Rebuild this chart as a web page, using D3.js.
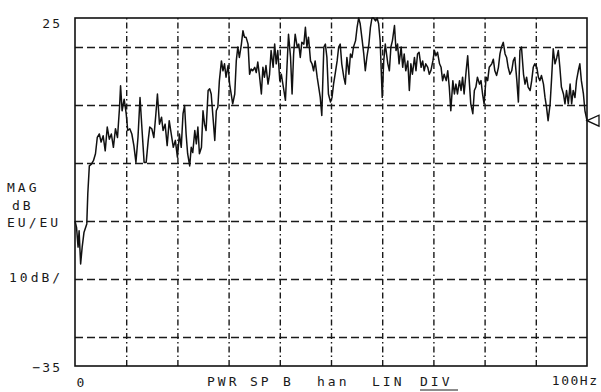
<!DOCTYPE html>
<html>
<head>
<meta charset="utf-8">
<script src="https://cdn.jsdelivr.net/npm/d3@7"></script>
<style>
  html, body { margin: 0; padding: 0; background: #fff; }
  svg { display: block; }
  text { font-family: "DejaVu Sans Mono", "Liberation Mono", monospace; font-size: 13px; fill: #1a1a1a; }
</style>
</head>
<body>
<svg id="chart" width="601" height="392"></svg>
<script>
// Power spectrum trace: frequency (Hz) and magnitude (dB EU/EU)
const traceFreqHz = [
  0, 0.3, 0.6, 0.8, 1.1, 1.4, 1.75, 2.3, 2.5, 2.8,
  3.2, 3.6, 4.0, 4.35, 4.75, 5.1, 5.5, 5.9, 6.3, 6.7,
  7.1, 7.5, 7.9, 8.3, 8.7, 8.9, 9.2, 9.6, 10, 10.3,
  10.7, 11.1, 11.5, 11.9, 12.3, 12.7, 13.1, 13.5, 13.9, 14.3,
  14.6, 15, 15.4, 15.8, 16.1, 16.5, 16.9, 17.2, 17.6, 18,
  18.4, 18.8, 19.2, 19.6, 20, 20.4, 20.75, 21.1, 21.4, 21.7,
  22.0, 22.4, 22.7, 23.0, 23.4, 23.7, 24.0, 24.3, 24.7, 25.0,
  25.3, 25.6, 26.0, 26.3, 26.6, 26.9, 27.3, 27.6, 27.9, 28.2,
  28.6, 28.9, 29.2, 29.5, 29.9, 30.2, 30.5, 30.8, 31.2, 31.5,
  31.8, 32.1, 32.5, 32.8, 33.1, 33.4, 33.8, 34.1, 34.4, 34.7,
  35.1, 35.4, 35.7, 36.0, 36.4, 36.7, 37.0, 37.3, 37.7, 38.0,
  38.3, 38.7, 39.0, 39.3, 39.6, 40.0, 40.3, 40.8, 41.1, 41.4,
  41.7, 42.1, 42.4, 42.7, 43.0, 43.4, 43.7, 44.0, 44.3, 44.7,
  45.0, 45.3, 45.6, 46.0, 46.3, 46.6, 46.9, 47.3, 47.6, 47.9,
  48.2, 48.6, 48.9, 49.2, 49.5, 49.9, 50.2, 50.5, 50.8, 51.2,
  51.5, 51.8, 52.1, 52.5, 52.8, 53.1, 53.5, 53.8, 54.1, 54.4,
  54.8, 55.1, 55.4, 55.7, 56.1, 56.4, 56.7, 57.0, 57.4, 57.7,
  58.0, 58.3, 58.7, 59.0, 59.3, 59.6, 60.0, 60.3, 60.6, 61.1,
  61.4, 61.7, 62.0, 62.4, 62.7, 63.0, 63.3, 63.7, 64.0, 64.3,
  64.6, 65.0, 65.3, 65.6, 65.9, 66.3, 66.6, 66.9, 67.2, 67.6,
  67.9, 68.2, 68.5, 68.9, 69.2, 69.5, 69.9, 70.2, 70.5, 70.8,
  71.2, 71.5, 71.8, 72.1, 72.5, 72.8, 73.1, 73.4, 73.8, 74.1,
  74.4, 74.7, 75.1, 75.4, 75.7, 76.0, 76.4, 76.7, 77.0, 77.3,
  77.7, 78.0, 78.3, 78.6, 79.0, 79.3, 79.6, 79.9, 80.3, 80.6,
  80.9, 81.4, 81.7, 82.0, 82.35, 82.7, 83.0, 83.3, 83.65, 84.0,
  84.3, 84.6, 84.95, 85.3, 85.6, 85.9, 86.3, 86.6, 86.9, 87.2,
  87.6, 87.9, 88.2, 88.5, 88.9, 89.2, 89.5, 89.8, 90.2, 90.5,
  90.8, 91.1, 91.5, 91.8, 92.1, 92.4, 92.8, 93.1, 93.4, 93.75,
  94.1, 94.4, 94.7, 95.0, 95.4, 95.7, 96.0, 96.35, 96.7, 97.0,
  97.3, 97.65, 97.95, 98.3, 98.6, 98.9, 99.3, 99.6, 100
];
const traceMagDb = [
  -10, -11.1, -14.5, -11.7, -17.4, -14.5, -12, -10.5, -5.3, -0.5,
  -0.2, 0.4, 1.6, 4.4, 5, 3.6, 4.7, 2.1, 6.2, 4.1,
  5, 2.7, 5.9, 4.4, 9.6, 13.3, 9, 11, 8.5, 5.6,
  5.9, 5, 3, 0.1, 4.4, 11.3, 5.6, 0.1, 0.1, 3.9,
  6.2, 5.9, 4.4, 8.5, 11.9, 6.7, 7.9, 5.6, 6.7, 3,
  7.3, 5, 2.7, 3.9, 1, 5, 2.7, 8.5, 9.9, 5,
  1.6, -0.5, 2.7, 1.8, 5.6, 3.3, 6.2, 1.6, 2.7, 9,
  6.7, 5.6, 12.5, 12.8, 11.9, 8.5, 3.9, 9, 9.6, 14.2,
  17.6, 15.9, 17.1, 14.8, 16.8, 13.6, 11.9, 10.2, 11.9, 17.6,
  20, 18.2, 20.5, 22.8, 21.7, 21.7, 20.5, 15.3, 16.2, 15.9,
  16.5, 15.6, 17.4, 15.3, 11.9, 16.5, 14.8, 16.8, 13.6, 15.3,
  19.4, 16.5, 20.5, 17.1, 19.4, 14.2, 15.3, 12.5, 10.8, 16.5,
  22.2, 18.2, 11.9, 18.8, 22.2, 20, 20.5, 18.2, 20.8, 20.5,
  23.4, 20, 21.7, 17.6, 17.1, 15.9, 17.6, 14.8, 13.1, 11.3,
  8.2, 20, 20.5, 18.2, 11.9, 10.5, 11.3, 13.6, 15.3, 17.6,
  20, 20.5, 17.1, 14.8, 13.6, 18.2, 15.3, 18.8, 18.2, 20,
  21.1, 23.4, 25, 24, 21.1, 18.8, 15.9, 18.2, 20.5, 23.4,
  25, 25, 24.5, 25, 24, 21.1, 11.3, 17.6, 20.5, 17.1,
  15.9, 20, 21.1, 23.7, 19.4, 20.5, 17.1, 20, 16.5, 18.8,
  15.9, 17.6, 12.5, 17.1, 15.3, 18.2, 15.9, 18.8, 19.1, 16.5,
  17.6, 15.9, 17.1, 16.5, 15.3, 15.9, 17.6, 19.4, 18.5, 19.1,
  17.1, 16.5, 14.2, 15.3, 14.2, 15.9, 13.1, 9, 14.2, 11.9,
  13.6, 11.9, 14.2, 12.5, 14.8, 11.9, 15.9, 18.5, 14.2, 10.2,
  8.5, 12.5, 13.1, 14.8, 13.6, 14.2, 11.9, 10.2, 14.8, 14.2,
  16.5, 17.1, 17.9, 15.9, 15.1, 16.5, 18.8, 20, 20.8, 18.8,
  18.2, 16.5, 15.3, 15.9, 17.6, 18.2, 14.2, 10.5, 19.4, 20,
  15.3, 13.6, 14.8, 13.1, 12.5, 14.2, 16.5, 17.1, 16.5, 14.8,
  14.2, 15.1, 13.6, 11.3, 9.6, 7.3, 10.2, 14.8, 19.7, 17.1,
  18.2, 19.4, 16.5, 13.1, 11.9, 10.2, 12.5, 10.2, 13.6, 10.2,
  12.5, 11.3, 14.2, 15.9, 17.1, 14.2, 11.9, 9, 7.3
];

// Axis range and labelled ends
const magRange = [-35, 25];
const freqRange = [0, 100];
const magEndLabels = [25, -35];
const freqEndLabels = [0, 100];
// Grid divisions
const gridMagDb = [20, 10, 0, -10, -20, -30];
const gridFreqHz = [10, 20, 30, 40, 50, 60, 70, 80, 90];
// Annotation text
const yTitleLines = ["MAG", "dB", "EU/EU"];
const yScaleNote = "10dB/";
const statusWords = ["PWR", "SP", "B", "han", "LIN", "DIV"];

const svg = d3.select("#chart");
const plot = { left: 75, right: 587, top: 18, bottom: 366 };

const x = d3.scaleLinear().domain(freqRange).range([plot.left, plot.right]);
const y = d3.scaleLinear().domain(magRange).range([plot.bottom, plot.top]);

// Dashed graticule
svg.append("g")
  .attr("transform", `translate(${plot.left},0)`)
  .call(d3.axisLeft(y).tickValues(gridMagDb).tickSize(-(plot.right - plot.left)).tickFormat(""))
  .call(g => g.select(".domain").remove())
  .call(g => g.selectAll("line").attr("stroke", "#1a1a1a").attr("stroke-width", 1.4).attr("stroke-dasharray", "8,4"));

svg.append("g")
  .attr("transform", `translate(0,${plot.bottom})`)
  .call(d3.axisBottom(x).tickValues(gridFreqHz).tickSize(-(plot.bottom - plot.top)).tickFormat(""))
  .call(g => g.select(".domain").remove())
  .call(g => g.selectAll("line").attr("stroke", "#1a1a1a").attr("stroke-width", 1.4).attr("stroke-dasharray", "6,3,1.5,3"));

// Frame
svg.append("rect")
  .attr("x", plot.left).attr("y", plot.top)
  .attr("width", plot.right - plot.left).attr("height", plot.bottom - plot.top)
  .attr("fill", "none").attr("stroke", "#111").attr("stroke-width", 1.6);

// Magnitude end labels
svg.append("g")
  .attr("transform", `translate(${plot.left},0)`)
  .call(d3.axisLeft(y).tickValues(magEndLabels).tickSize(0).tickPadding(13)
    .tickFormat(d => d < 0 ? "\u2212" + String(-d) : String(d)))
  .call(g => g.select(".domain").remove())
  .call(g => g.selectAll("text").attr("font-family", null).attr("font-size", null)
    .style("letter-spacing", "2px")
    .attr("dy", d => d > 0 ? "0.75em" : "0.45em"));

// Frequency end labels
const xAxis = svg.append("g")
  .attr("transform", `translate(0,${plot.bottom})`)
  .call(d3.axisBottom(x).tickValues(freqEndLabels).tickSize(0).tickPadding(12)
    .tickFormat(d => d === 0 ? "0" : d + "Hz"))
  .call(g => g.select(".domain").remove());
xAxis.selectAll("text")
  .attr("font-family", null).attr("font-size", null)
  .style("letter-spacing", "1.5px")
  .attr("text-anchor", d => d === 0 ? "start" : "end")
  .attr("dx", d => d === 0 ? 1 : 11)
  .attr("dy", d => d === 0 ? "0.71em" : "0.5em");

// Trace
const clip = v => Math.max(magRange[0], Math.min(magRange[1], v));
const line = d3.line()
  .x((d, i) => x(traceFreqHz[i]))
  .y(d => y(clip(d)));
svg.append("path")
  .datum(traceMagDb)
  .attr("fill", "none")
  .attr("stroke", "#111")
  .attr("stroke-width", 1.5)
  .attr("stroke-linejoin", "round")
  .attr("d", line);

// Marker at the final point
const lastI = traceMagDb.length - 1;
const mx = x(traceFreqHz[lastI]), my = y(clip(traceMagDb[lastI]));
svg.append("path")
  .attr("d", `M${mx},${my}L${mx + 12},${my - 5.5}L${mx + 12},${my + 5.5}Z`)
  .attr("fill", "#fff").attr("stroke", "#111").attr("stroke-width", 1.3);

// Y title block
const titleX = [7, 12, 7];
yTitleLines.forEach((t, i) => {
  svg.append("text").attr("x", titleX[i]).attr("y", 192 + i * 17.5)
    .style("letter-spacing", "3px").text(t);
});
svg.append("text").attr("x", 9).attr("y", 282).style("letter-spacing", "3px").text(yScaleNote);

// Status line
const statusX = [207, 250, 283, 317, 372, 420];
statusWords.forEach((w, i) => {
  svg.append("text").attr("x", statusX[i]).attr("y", 386)
    .style("letter-spacing", "3px").text(w);
});
svg.append("line").attr("x1", 420).attr("x2", 458).attr("y1", 390).attr("y2", 390)
  .attr("stroke", "#1a1a1a").attr("stroke-width", 1.2);
</script>
</body>
</html>
